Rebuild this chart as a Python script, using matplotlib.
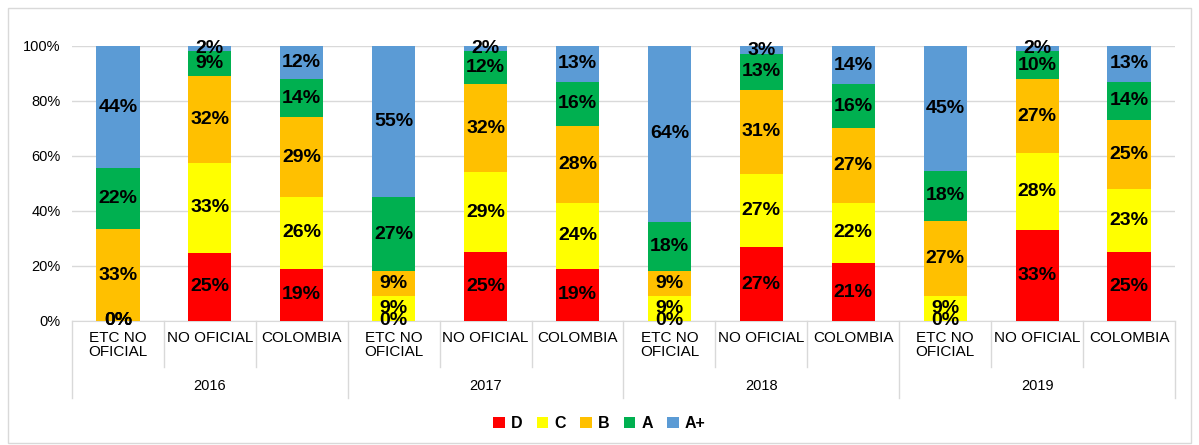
import numpy as np
import matplotlib.pyplot as plt
from matplotlib.patches import Rectangle

plt.rcParams['font.family'] = ['Liberation Sans', 'DejaVu Sans']

# Data (percent)
years = ['2016', '2017', '2018', '2019']
groups = ['ETC NO\nOFICIAL', 'NO OFICIAL', 'COLOMBIA']
levels = ['D', 'C', 'B', 'A', 'A+']
colors = ['#FF0000', '#FFFF00', '#FFC000', '#00B050', '#5B9BD5']

D  = [0, 25, 19, 0, 25, 19, 0, 27, 21, 0, 33, 25]
C  = [0, 33, 26, 9, 29, 24, 9, 27, 22, 9, 28, 23]
B  = [33, 32, 29, 9, 32, 28, 9, 31, 27, 27, 27, 25]
A  = [22, 9, 14, 27, 12, 16, 18, 13, 16, 18, 10, 14]
Ap = [44, 2, 12, 55, 2, 13, 64, 3, 14, 45, 2, 13]

series = np.array([D, C, B, A, Ap], dtype=float)
heights = series / series.sum(axis=0) * 100  # 100% stacked

fig = plt.figure(figsize=(11.99, 4.45), dpi=100)
ax = fig.add_axes([0.060, 0.2787, 0.920, 0.618])

x = np.arange(len(D))
bottom = np.zeros(len(D))
for lev, col, h, raw in zip(levels, colors, heights, series):
    ax.bar(x, h, 0.47, bottom=bottom, color=col, label=lev, zorder=3)
    for xi, b, hh, r in zip(x, bottom, h, raw):
        ax.text(xi, b + hh / 2, f'{int(r)}%', ha='center', va='center',
                fontsize=14, fontweight='bold', color='black', zorder=5)
    bottom += h

ax.set_xlim(-0.5, len(D) - 0.5)
ax.set_ylim(0, 100)
ax.set_yticks([0, 20, 40, 60, 80, 100])
ax.set_yticklabels([f'{t}%' for t in [0, 20, 40, 60, 80, 100]], fontsize=10.5)
ax.tick_params(axis='y', length=0, pad=8)
ax.set_xticks([])
ax.grid(axis='y', color='#D9D9D9', linewidth=1, zorder=0)
for s in ['top', 'right', 'left']:
    ax.spines[s].set_visible(False)
ax.spines['bottom'].set_color('#D9D9D9')

# multi-level category axis
tr = ax.get_xaxis_transform()
for i in range(len(D) + 1):
    xb = i - 0.5
    depth = -0.28 if i % 3 == 0 else -0.167
    ax.plot([xb, xb], [0, depth], transform=tr, color='#D9D9D9', lw=1, clip_on=False)
for i in range(len(D)):
    ax.text(i, -0.035, groups[i % 3], transform=tr, ha='center', va='top',
            fontsize=11, linespacing=1.05)
for j, yr in enumerate(years):
    ax.text(3 * j + 1, -0.236, yr, transform=tr, ha='center', va='center', fontsize=10.5)

leg = fig.legend(loc='center', bbox_to_anchor=(0.5, 0.049), ncol=5, frameon=False,
                 handlelength=0.7, handleheight=0.7, handletextpad=0.4, columnspacing=0.9,
                 prop={'weight': 'bold', 'size': 11.5})

fig.patches.append(Rectangle((0.007, 0.005), 0.986, 0.978, transform=fig.transFigure,
                             fill=False, edgecolor='#D9D9D9', lw=1))

fig.savefig('out.png', dpi=100)
